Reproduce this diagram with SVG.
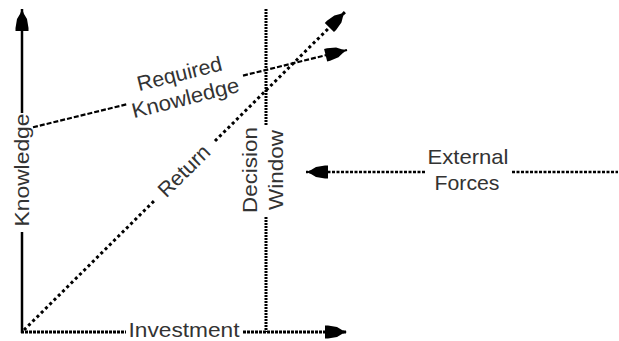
<svg xmlns="http://www.w3.org/2000/svg" width="619" height="341" viewBox="0 0 619 341">
<style>
  text { font-family: "Liberation Sans", Arial, sans-serif; font-size: 21px; fill: #333; text-anchor: middle; }
  .ln { fill: none; stroke: #000; }
  .axis { stroke-width: 2.5; }
  .haxis { stroke-width: 3; stroke-dasharray: 3 1; }
  .dw { stroke-width: 3; stroke-dasharray: 2 1; }
  .rk { stroke-width: 2.2; stroke-dasharray: 5 2; }
  .ret { stroke-width: 3; stroke-dasharray: 3 3; }
  .ext { stroke-width: 2.5; stroke-dasharray: 3 1.5; }
</style>
<defs>
  <marker id="ah" viewBox="-24 -8 25 16" refX="0" refY="0" markerWidth="25" markerHeight="16" markerUnits="userSpaceOnUse" orient="auto">
    <path d="M0,0 L-5,-2 L-10,-5 L-19,-6.5 L-22,-6.5 L-22,6.5 L-19,6.5 L-10,5 L-5,2 Z" fill="#000"/>
  </marker>
</defs>
<rect width="619" height="341" fill="#fff"/>
<g id="connectors">
  <line class="ln axis" x1="22" y1="113" x2="22" y2="9" marker-end="url(#ah)"/>
  <line class="ln axis" x1="22" y1="232" x2="22" y2="333"/>
  <line class="ln haxis" x1="21" y1="332" x2="126" y2="332"/>
  <line class="ln haxis" x1="243" y1="332" x2="347" y2="332" marker-end="url(#ah)"/>
  <line class="ln dw" x1="266" y1="9" x2="266" y2="125"/>
  <line class="ln dw" x1="266" y1="217" x2="266" y2="332"/>
  <line class="ln rk" x1="33" y1="127.3" x2="128" y2="104"/>
  <line class="ln rk" x1="243" y1="75.6" x2="347" y2="50" marker-end="url(#ah)"/>
  <line class="ln ret" x1="24" y1="330" x2="155" y2="200"/>
  <line class="ln ret" x1="215" y1="141" x2="345" y2="12" marker-end="url(#ah)"/>
  <line class="ln ext" x1="425" y1="172" x2="306" y2="172" marker-end="url(#ah)"/>
  <line class="ln ext" x1="512" y1="172" x2="618" y2="172"/>
</g>
<g id="knowledge-axis">
  <text transform="translate(28.5,170) rotate(-90)" font-size="22" textLength="113" lengthAdjust="spacingAndGlyphs">Knowledge</text>
</g>
<g id="investment-axis">
  <text x="184" y="337" textLength="111" lengthAdjust="spacingAndGlyphs">Investment</text>
</g>
<g id="decision-window">
  <text transform="translate(257,170) rotate(-90)" textLength="86" lengthAdjust="spacingAndGlyphs">Decision</text>
  <text transform="translate(283,170) rotate(-90)" textLength="80" lengthAdjust="spacingAndGlyphs">Window</text>
</g>
<g id="required-knowledge">
  <g transform="translate(185,90) rotate(-14)">
    <text x="-1.5" y="-10" textLength="87" lengthAdjust="spacingAndGlyphs">Required</text>
    <text x="-1.5" y="15" textLength="110" lengthAdjust="spacingAndGlyphs">Knowledge</text>
  </g>
</g>
<g id="return">
  <text transform="translate(184,171) rotate(-44.7)" y="7" textLength="64" lengthAdjust="spacingAndGlyphs">Return</text>
</g>
<g id="external-forces">
  <text x="468" y="164" textLength="81" lengthAdjust="spacingAndGlyphs">External</text>
  <text x="467" y="190" textLength="65" lengthAdjust="spacingAndGlyphs">Forces</text>
</g>
</svg>
